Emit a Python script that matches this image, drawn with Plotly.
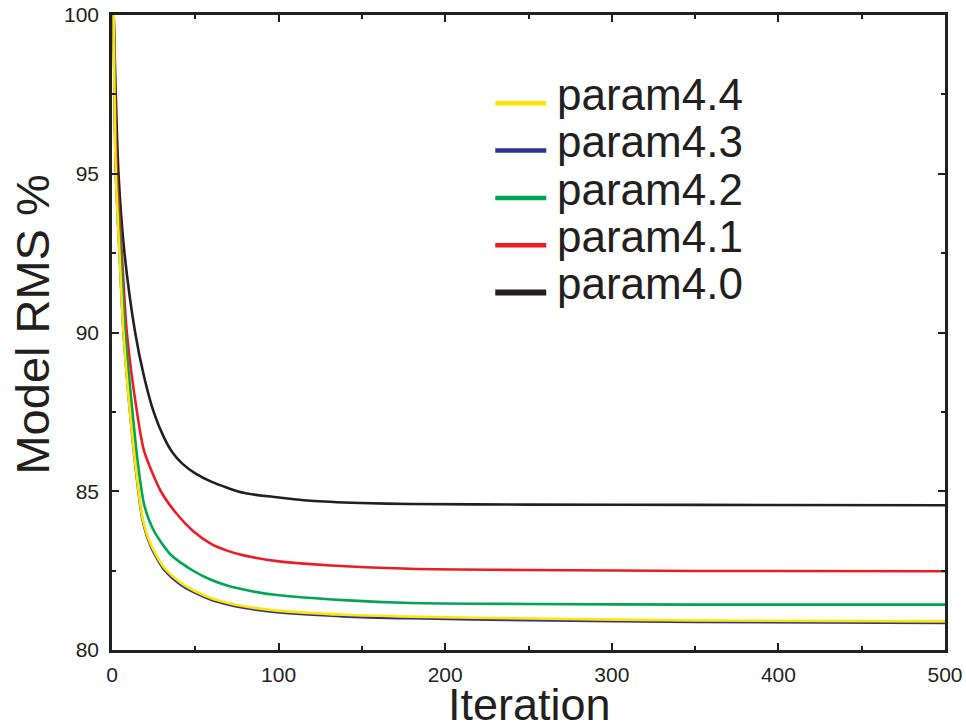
import plotly.graph_objects as go

# ---------------- data ----------------
series_names = ["param4.4", "param4.3", "param4.2", "param4.1", "param4.0"]
series_colors = ["#FFE600", "#2E3192", "#00A651", "#ED1C24", "#231F20"]

iter_44 = [1, 2.3, 4.5, 6.9, 10.8, 14.6, 18.3, 23.3, 31.3, 41.2, 50, 59.2, 69, 79, 99, 139, 179, 250, 350, 500]
rms_44 = [100, 95, 92.5, 90, 87.5, 85.6, 84.16, 83.32, 82.59, 82.12, 81.85, 81.64, 81.49, 81.38, 81.24, 81.11, 81.05, 80.99, 80.93, 80.90]

iter_43 = [1, 2.3, 4.5, 6.9, 10.8, 14.6, 18.3, 23.3, 31.3, 41.2, 50, 59.2, 69, 79, 99, 139, 179, 250, 350, 500]
rms_43 = [100, 95, 92.5, 90, 87.5, 85.55, 84.1, 83.26, 82.53, 82.06, 81.8, 81.59, 81.44, 81.33, 81.19, 81.06, 81.0, 80.94, 80.88, 80.85]

iter_42 = [1, 2.5, 5.3, 7.9, 12.3, 15.4, 19.3, 25.3, 35.3, 49.2, 59, 69.1, 84, 99, 139, 179, 250, 350, 500]
rms_42 = [100, 95, 92.5, 90, 87.5, 85.94, 84.58, 83.74, 83.0, 82.48, 82.22, 82.03, 81.85, 81.73, 81.57, 81.48, 81.45, 81.43, 81.43]

iter_41 = [1, 3, 5.9, 8.9, 15, 19.3, 29.3, 39.3, 49, 59.2, 69, 79, 99, 129, 179, 250, 350, 500]
rms_41 = [100, 95, 92.5, 90, 87.5, 86.26, 85.0, 84.26, 83.73, 83.35, 83.13, 82.98, 82.8, 82.67, 82.56, 82.52, 82.49, 82.48]

iter_40 = [1, 3.9, 7.5, 13.9, 19.3, 25, 31.3, 36.3, 42.2, 50, 59.2, 79, 99, 119, 149, 179, 250, 350, 500]
rms_40 = [100, 95, 92.5, 90, 88.6, 87.5, 86.68, 86.22, 85.87, 85.56, 85.31, 84.95, 84.81, 84.70, 84.63, 84.60, 84.58, 84.57, 84.56]

x_title = "Iteration"
y_title = "Model RMS %"
x_ticks = [0, 100, 200, 300, 400, 500]
y_ticks = [80, 85, 90, 95, 100]

series_x = [iter_44, iter_43, iter_42, iter_41, iter_40]
series_y = [rms_44, rms_43, rms_42, rms_41, rms_40]

# ---------------- figure ----------------
W, H = 966, 725
L, R, T, B = 111.5, 945, 15, 650   # plot area in window pixels
FONT = "Liberation Sans, Arial, Helvetica, sans-serif"
INK = "#231F20"

def px_x(p):
    return (p - L) / (R - L)

def px_y(p):
    return (B - p) / (B - T)

fig = go.Figure()
# draw order: black first, yellow last (on top)
for i in [4, 3, 2, 1, 0]:
    fig.add_trace(go.Scatter(
        x=series_x[i], y=series_y[i], mode="lines", name=series_names[i],
        line=dict(color=series_colors[i], width=2.6, shape="spline", smoothing=0.7),
        showlegend=False,
    ))

axis_common = dict(
    showline=True, linecolor=INK, linewidth=2.5, mirror="allticks",
    ticks="inside", ticklen=7, tickwidth=1.5, tickcolor=INK,
    showgrid=False, zeroline=False, automargin=False,
    ticklabeloverflow="allow",
    tickfont=dict(family=FONT, size=21, color=INK),
)

fig.update_xaxes(range=[0, 500], tickvals=x_ticks,
                 minor=dict(dtick=50, ticks="inside", ticklen=4, tickwidth=1.5, tickcolor=INK),
                 ticklabelstandoff=4,
                 **axis_common)
fig.update_yaxes(range=[80, 100], tickvals=y_ticks,
                 minor=dict(dtick=2.5, ticks="inside", ticklen=4, tickwidth=1.5, tickcolor=INK),
                 ticklabelstandoff=6,
                 **axis_common)

annotations = []
shapes = []
# manual legend
for k in range(5):
    ly = 103.3 + 47.3 * k
    baseline = 110 + 47.3 * k
    shapes.append(dict(type="line", xref="paper", yref="paper",
                       x0=px_x(495), x1=px_x(546), y0=px_y(ly), y1=px_y(ly),
                       line=dict(color=series_colors[k], width=6 if k == 4 else 4.5)))
    annotations.append(dict(xref="paper", yref="paper", x=px_x(555), y=px_y(baseline - 15.3),
                            xanchor="left", yanchor="middle", showarrow=False,
                            text=series_names[k], font=dict(family=FONT, size=44, color=INK)))

# axis titles
annotations.append(dict(xref="paper", yref="paper", x=px_x(529), y=px_y(704.5),
                        xanchor="center", yanchor="middle", showarrow=False,
                        text=x_title, font=dict(family=FONT, size=45, color=INK)))
annotations.append(dict(xref="paper", yref="paper", x=px_x(31), y=px_y(325),
                        xanchor="center", yanchor="middle", showarrow=False, textangle=-90,
                        text=y_title, font=dict(family=FONT, size=47, color=INK)))

fig.update_layout(
    width=W, height=H,
    margin=dict(l=L, r=W - R, t=T, b=H - B, pad=0, autoexpand=False),
    paper_bgcolor="white", plot_bgcolor="white",
    annotations=annotations, shapes=shapes,
    showlegend=False,
)

# remove the default 8px page margin so the figure fills the window exactly
fig.write_html(
    "out.html",
    config={"displayModeBar": False},
    post_script="document.body.style.margin='0';document.body.style.overflow='hidden';",
)
